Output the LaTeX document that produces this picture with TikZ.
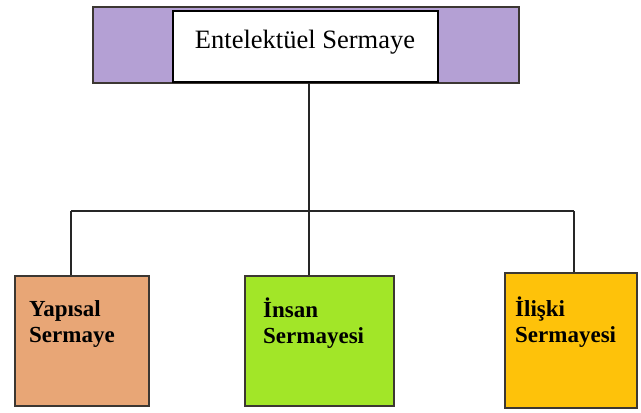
\documentclass[tikz,border=0pt]{standalone}
\usepackage{fontspec}
\setmainfont{Liberation Serif}
\definecolor{bandpurple}{RGB}{180,160,212}
\definecolor{boxorange}{RGB}{232,166,118}
\definecolor{boxgreen}{RGB}{162,230,40}
\definecolor{boxyellow}{RGB}{254,194,10}
\definecolor{edgegray}{RGB}{60,55,50}
\tikzset{
  band/.style={draw=edgegray, line width=1.2pt, fill=bandpurple, inner sep=0pt},
  titlebox/.style={draw=black, line width=1.6pt, fill=white, inner sep=0pt},
  capbox/.style={draw=edgegray, line width=1.4pt, inner sep=0pt},
  captext/.style={anchor=base west, inner sep=0pt, font=\fontsize{23}{26}\selectfont\bfseries},
  titletext/.style={anchor=base, inner sep=0pt, font=\fontsize{26.5}{30}\selectfont},
  link/.style={draw=black!85, line width=1.2pt}
}
\begin{document}
\begin{tikzpicture}[x=1pt,y=-1pt]
\useasboundingbox (0,0) rectangle (641,413);
% top band and title box
\node[band, minimum width=426pt, minimum height=76pt] (band) at (306,45) {};
\node[titlebox, minimum width=265pt, minimum height=71pt] (title) at (305.5,46.5) {};
\node[titletext] (tt) at (305,48) {Entelektüel Sermaye};
% lower boxes
\node[capbox, fill=boxorange, minimum width=134pt, minimum height=130pt] (yap) at (82,341) {};
\node[capbox, fill=boxgreen, minimum width=149pt, minimum height=130pt] (ins) at (319.5,341) {};
\node[capbox, fill=boxyellow, minimum width=132pt, minimum height=135pt] (ili) at (571,340.5) {};
\node[captext] (yapt) at (29,316) {\begin{tabular}[t]{@{}l@{}}Yapısal\\Sermaye\end{tabular}};
\node[captext] (inst) at (263,317) {\begin{tabular}[t]{@{}l@{}}İnsan\\Sermayesi\end{tabular}};
\node[captext] (ilit) at (515,316) {\begin{tabular}[t]{@{}l@{}}İlişki\\Sermayesi\end{tabular}};
% connectors
\coordinate (j) at (309,211);
\coordinate (jl) at (71,211);
\coordinate (jr) at (574,211);
\draw[link] (title.south -| j) -- (j);
\draw[link] (jl) -- (jr);
\draw[link] (jl) -- (jl |- yap.north);
\draw[link] (j) -- (j |- ins.north);
\draw[link] (jr) -- (jr |- ili.north);
\end{tikzpicture}
\end{document}
